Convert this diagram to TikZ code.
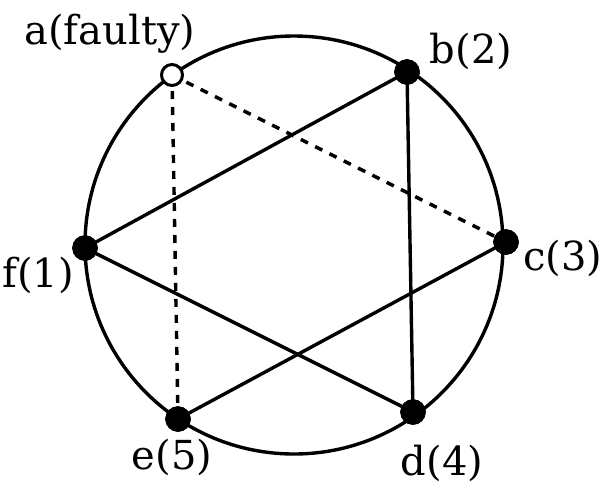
\documentclass[tikz,border=0pt]{standalone}
\usepackage{fontspec}
\setmainfont{DejaVu Serif}
\begin{document}
\begin{tikzpicture}[x=1pt,y=-1pt,
  vtx/.style={circle,fill=black,draw=black,inner sep=0pt,minimum size=25pt},
  faultyv/.style={circle,fill=white,draw=black,line width=3pt,inner sep=0pt,minimum size=21pt},
  lab/.style={anchor=base,font=\fontsize{40}{44}\selectfont,inner sep=0pt},
  edge/.style={line width=3.4pt},
  dedge/.style={line width=3.4pt,dash pattern=on 8pt off 8pt}]
\useasboundingbox (0,0) rectangle (604,485);
\coordinate (o) at (294,245);
\draw[line width=3.4pt] (o) circle (209);
\node[vtx] (b) at (407,72) {};
\node[vtx] (c) at (506,242) {};
\node[vtx] (d) at (413,412) {};
\node[vtx] (e) at (178,419) {};
\node[vtx] (f) at (85,248) {};
\coordinate (ac) at (172,75);
\draw[dedge] (ac) -- (c.center);
\draw[dedge] (ac) -- (e.center);
\draw[edge] (f.center) -- (b.center);
\draw[edge] (b.center) -- (d.center);
\draw[edge] (f.center) -- (d.center);
\draw[edge] (e.center) -- (c.center);
\node[vtx] at (b) {};
\node[vtx] at (c) {};
\node[vtx] at (d) {};
\node[vtx] at (e) {};
\node[vtx] at (f) {};
\node[faultyv] (a) at (ac) {};
\node[lab] (la) at (110,44) {a(faulty)};
\node[lab] (lb) at (471,63) {b(2)};
\node[lab] (lc) at (563,270) {c(3)};
\node[lab] (lf) at (38,287) {f(1)};
\node[lab] (le) at (172,469) {e(5)};
\node[lab] (ld) at (442,475) {d(4)};
\end{tikzpicture}
\end{document}
